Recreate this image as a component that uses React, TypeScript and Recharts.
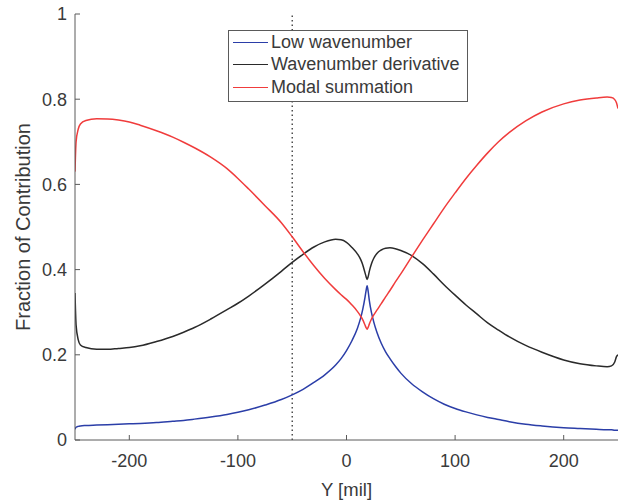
import React from "react";
import {
  LineChart,
  Line,
  XAxis,
  YAxis,
  ReferenceLine,
  Legend,
  Label,
} from "recharts";

// sample positions along Y [mil]
const yPos = [
  -250, -249, -247, -245, -240, -230, -220, -210, -200, -190, -175, -160, -150,
  -140, -125, -110, -100, -90, -75, -60, -50, -40, -30, -20, -10, -5, 0, 5, 10,
  13, 15, 17, 18, 19, 20, 21, 23, 25, 28, 32, 36, 40, 45, 50, 60, 70, 80, 90,
  100, 110, 120, 130, 140, 150, 165, 180, 200, 215, 230, 240, 244, 247, 248.5,
  250,
];

const lowWavenumber = [
  0.025, 0.03, 0.032, 0.033, 0.034, 0.035, 0.036, 0.037, 0.038, 0.039, 0.041,
  0.044, 0.046, 0.049, 0.054, 0.06, 0.065, 0.071, 0.082, 0.095, 0.106, 0.119,
  0.135, 0.153, 0.176, 0.191, 0.21, 0.233, 0.262, 0.286, 0.307, 0.334, 0.35,
  0.362, 0.348, 0.328, 0.299, 0.278, 0.253, 0.227, 0.207, 0.191, 0.173, 0.157,
  0.132, 0.113, 0.097, 0.084, 0.074, 0.066, 0.059, 0.053, 0.048, 0.043, 0.037,
  0.033, 0.029, 0.027, 0.025, 0.024, 0.024, 0.023, 0.023, 0.023,
];

const wavenumberDerivative = [
  0.345, 0.27, 0.235, 0.223, 0.217, 0.213, 0.213, 0.215, 0.217, 0.221, 0.231,
  0.243, 0.253, 0.264, 0.284, 0.306, 0.321, 0.338, 0.366, 0.396, 0.417, 0.436,
  0.453, 0.465, 0.471, 0.47, 0.464, 0.452, 0.437, 0.424, 0.411, 0.393, 0.384,
  0.377, 0.384, 0.396, 0.414, 0.426, 0.438, 0.446, 0.45, 0.451, 0.449, 0.445,
  0.433, 0.414, 0.39, 0.364, 0.34, 0.317, 0.296, 0.275, 0.258, 0.242, 0.222,
  0.206, 0.188, 0.179, 0.174, 0.172, 0.174, 0.183, 0.195, 0.2,
];

const modalSummation = [
  0.63, 0.7, 0.73, 0.742, 0.75, 0.754, 0.7535, 0.751, 0.7465, 0.739, 0.726,
  0.711, 0.699, 0.686, 0.664, 0.637, 0.614, 0.589, 0.55, 0.51, 0.477, 0.442,
  0.409, 0.379, 0.353, 0.341, 0.33, 0.317, 0.302, 0.291, 0.282, 0.27, 0.264,
  0.26, 0.265, 0.272, 0.284, 0.293, 0.305, 0.32, 0.336, 0.351, 0.371, 0.39,
  0.43, 0.469, 0.507, 0.545, 0.58, 0.614, 0.645, 0.674, 0.7, 0.722, 0.749,
  0.77, 0.789, 0.798, 0.803, 0.805, 0.804, 0.799, 0.792, 0.778,
];

const xTicks = [-200, -100, 0, 100, 200];
const yTicks = [0, 0.2, 0.4, 0.6, 0.8, 1];
const markerY = -50;

const seriesNames = ["Low wavenumber", "Wavenumber derivative", "Modal summation"];
const seriesColors = ["#2b3ea8", "#2a2a2a", "#f03c3c"];

const data = yPos.map((x, i) => ({
  x,
  low: lowWavenumber[i],
  deriv: wavenumberDerivative[i],
  modal: modalSummation[i],
}));

const FONT = "'Liberation Sans', Arial, sans-serif";
const TEXT = "#3a3a3a";
const AXIS = "#5a5a5a";

function LegendBox() {
  return (
    <div
      style={{
        border: `1px solid ${AXIS}`,
        background: "#fff",
        padding: "0px 3px 2px 4px",
        fontFamily: FONT,
        fontSize: 18,
        color: TEXT,
        width: 231,
        whiteSpace: "nowrap",
      }}
    >
      {seriesNames.map((name, i) => (
        <div
          key={name}
          style={{ display: "flex", alignItems: "center", height: 22.5 }}
        >
          <span
            style={{
              display: "inline-block",
              width: 35,
              height: 0,
              borderTop: `1.5px solid ${seriesColors[i]}`,
              marginRight: 3,
            }}
          />
          <span>{name}</span>
        </div>
      ))}
    </div>
  );
}

export default function App() {
  return (
    <div style={{ position: "absolute", left: 0, top: 0 }}>
      <LineChart
        width={621}
        height={502}
        data={data}
        margin={{ top: 14, right: 3, left: 0, bottom: 0 }}
        style={{ fontFamily: FONT }}
      >
        <XAxis
          dataKey="x"
          type="number"
          domain={[-250, 250]}
          allowDataOverflow
          ticks={xTicks}
          interval={0}
          height={62}
          tickSize={-5}
          tickMargin={19}
          stroke={AXIS}
          tick={{ fill: TEXT, fontSize: 18 }}
        >
          <Label
            value="Y [mil]"
            position="insideBottom"
            offset={6}
            style={{ fill: TEXT, fontSize: 18.5 }}
          />
        </XAxis>
        <XAxis
          xAxisId="top"
          dataKey="x"
          type="number"
          orientation="top"
          domain={[-250, 250]}
          allowDataOverflow
          ticks={xTicks}
          interval={0}
          height={0}
          tickSize={-5}
          tickFormatter={() => ""}
          stroke={AXIS}
        />
        <YAxis
          type="number"
          domain={[0, 1]}
          allowDataOverflow
          ticks={yTicks}
          interval={0}
          width={75}
          tickSize={-5}
          tickMargin={13}
          stroke={AXIS}
          tick={{ fill: TEXT, fontSize: 18 }}
        >
          <Label
            value="Fraction of Contribution"
            angle={-90}
            position="center"
            dx={-15}
            style={{ fill: TEXT, fontSize: 20, textAnchor: "middle" }}
          />
        </YAxis>
        <YAxis
          yAxisId="right"
          type="number"
          orientation="right"
          domain={[0, 1]}
          allowDataOverflow
          ticks={yTicks}
          interval={0}
          width={0}
          tickSize={-5}
          tickFormatter={() => ""}
          stroke={AXIS}
        />
        <ReferenceLine
          x={markerY}
          stroke="#222"
          strokeDasharray="1.5 3"
          strokeWidth={1.2}
        />
        <Line
          dataKey="low"
          name={seriesNames[0]}
          type="monotone"
          stroke={seriesColors[0]}
          strokeWidth={1.5}
          dot={false}
          isAnimationActive={false}
        />
        <Line
          dataKey="deriv"
          name={seriesNames[1]}
          type="monotone"
          stroke={seriesColors[1]}
          strokeWidth={1.5}
          dot={false}
          isAnimationActive={false}
        />
        <Line
          dataKey="modal"
          name={seriesNames[2]}
          type="monotone"
          stroke={seriesColors[2]}
          strokeWidth={1.5}
          dot={false}
          isAnimationActive={false}
        />
        <Legend
          layout="vertical"
          verticalAlign="middle"
          align="center"
          wrapperStyle={{ left: 228, top: 30, width: "auto" }}
          content={() => <LegendBox />}
        />
      </LineChart>
    </div>
  );
}
